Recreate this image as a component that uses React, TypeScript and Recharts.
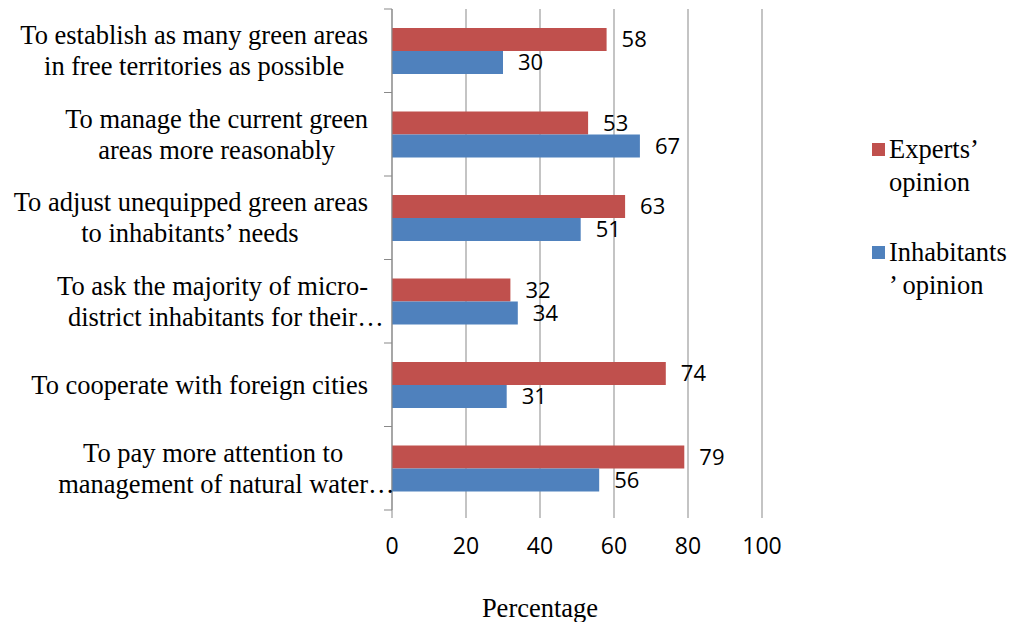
import { BarChart, Bar, XAxis, YAxis, CartesianGrid, LabelList, Legend } from 'recharts'

const CATEGORIES = [
  'To establish as many green areas\nin free territories as possible',
  'To manage the current green\nareas more reasonably',
  'To adjust unequipped green areas\nto inhabitants’ needs',
  'To ask the majority of micro-\ndistrict inhabitants for their…',
  'To cooperate with foreign cities',
  'To pay more attention to\nmanagement of natural water…',
]
const EXPERTS = [58, 53, 63, 32, 74, 79]
const INHABITANTS = [30, 67, 51, 34, 31, 56]
const X_TICKS = [0, 20, 40, 60, 80, 100]

const data = CATEGORIES.map((name, i) => ({ name, experts: EXPERTS[i], inhabitants: INHABITANTS[i] }))

const W = 1010
const H = 622
const LEGEND_W = 140
// the vertical legend on the right eats LEGEND_W of the right margin
const M = { top: 9, right: 248 - LEGEND_W, left: 0, bottom: 72 }
const X_AXIS_H = 40
const AXIS_X = 392
const PLOT_H = H - M.top - M.bottom - X_AXIS_H
const BAND = PLOT_H / CATEGORIES.length
const C = { red: '#C0504D', blue: '#4F81BD', grid: '#898989', ink: '#000' }
const SERIF = '"Liberation Serif", "Times New Roman", serif'
const SANS = '"Open Sans", sans-serif'
const LABEL_FONT = 26.5
const LINE_H = 31
const LABEL_RIGHT = 368

let ctx: CanvasRenderingContext2D | null = null
function measure(s: string) {
  if (!ctx) {
    ctx = document.createElement('canvas').getContext('2d')
    if (ctx) ctx.font = `${LABEL_FONT}px "Liberation Serif"`
  }
  return ctx ? ctx.measureText(s).width : s.length * LABEL_FONT * 0.45
}

// Excel-style wrapped label: block centred, block's right edge on LABEL_RIGHT, ellipsis hangs outside
function CategoryTick(props: any) {
  const { y, payload, index } = props
  const lines = String(payload.value).split('\n')
  const widths = lines.map(l => measure(l.replace(/…$/, '')))
  const maxW = Math.max(...widths)
  const cx = LABEL_RIGHT - maxW / 2
  const y0 = y - ((lines.length - 1) * LINE_H) / 2
  return (
    <g>
      <line x1={AXIS_X - 8} x2={AXIS_X} y1={y - BAND / 2} y2={y - BAND / 2} stroke={C.grid} />
      {index === CATEGORIES.length - 1 && (
        <line x1={AXIS_X - 8} x2={AXIS_X} y1={y + BAND / 2} y2={y + BAND / 2} stroke={C.grid} />
      )}
      {lines.map((l, i) => (
        <text key={i} x={cx - widths[i] / 2} y={y0 + i * LINE_H} dominantBaseline="central"
          fontFamily={SERIF} fontSize={LABEL_FONT} fill={C.ink}>{l}</text>
      ))}
    </g>
  )
}

const LEGEND_LINES: Record<string, string[]> = {
  experts: ['Experts’', 'opinion'],
  inhabitants: ['Inhabitants', '’ opinion'],
}

function LegendBox({ payload }: any) {
  return (
    <div style={{ display: 'flex', flexDirection: 'column', gap: 37 }}>
      {(payload || []).map((p: any) => (
        <div key={p.dataKey} style={{ display: 'flex', alignItems: 'flex-start' }}>
          <span style={{ width: 13, height: 13, background: p.color, marginTop: 10, marginRight: 4, flexShrink: 0 }} />
          <div style={{ fontFamily: SERIF, fontSize: LABEL_FONT, lineHeight: `${LINE_H + 2}px`, color: C.ink }}>
            {(LEGEND_LINES[p.dataKey] || [p.value]).map((l, i) => <div key={i}>{l}</div>)}
          </div>
        </div>
      ))}
    </div>
  )
}

export default function App() {
  return (
    <div style={{ position: 'absolute', left: 0, top: 0, width: W, height: H, background: '#fff' }}>
      <BarChart width={W} height={H} data={data} layout="vertical" margin={M} barGap={0}>
        <CartesianGrid horizontal={false} stroke={C.grid} />
        <XAxis type="number" domain={[0, 100]} ticks={X_TICKS} axisLine={false} tickSize={8} tickMargin={20}
          height={X_AXIS_H} tickLine={{ stroke: C.grid }} tick={{ fontSize: 23, fontFamily: SANS, fill: C.ink }} interval={0} />
        <YAxis type="category" dataKey="name" width={AXIS_X} axisLine={{ stroke: C.grid }} tickLine={false}
          tick={<CategoryTick />} interval={0} />
        <Legend layout="vertical" verticalAlign="top" align="right" content={<LegendBox />}
          wrapperStyle={{ left: 872, top: 133, width: LEGEND_W }} />
        <Bar dataKey="experts" name="Experts’ opinion" fill={C.red} barSize={23} isAnimationActive={false}>
          <LabelList dataKey="experts" position="right" offset={15} fill={C.ink} fontSize={22} fontFamily={SANS} />
        </Bar>
        <Bar dataKey="inhabitants" name="Inhabitants’ opinion" fill={C.blue} barSize={23} isAnimationActive={false}>
          <LabelList dataKey="inhabitants" position="right" offset={15} fill={C.ink} fontSize={22} fontFamily={SANS} />
        </Bar>
      </BarChart>
      <div style={{ position: 'absolute', left: 440, width: 200, top: 592, textAlign: 'center',
        fontFamily: SERIF, fontSize: LABEL_FONT, color: C.ink, lineHeight: '32px' }}>Percentage</div>
    </div>
  )
}
